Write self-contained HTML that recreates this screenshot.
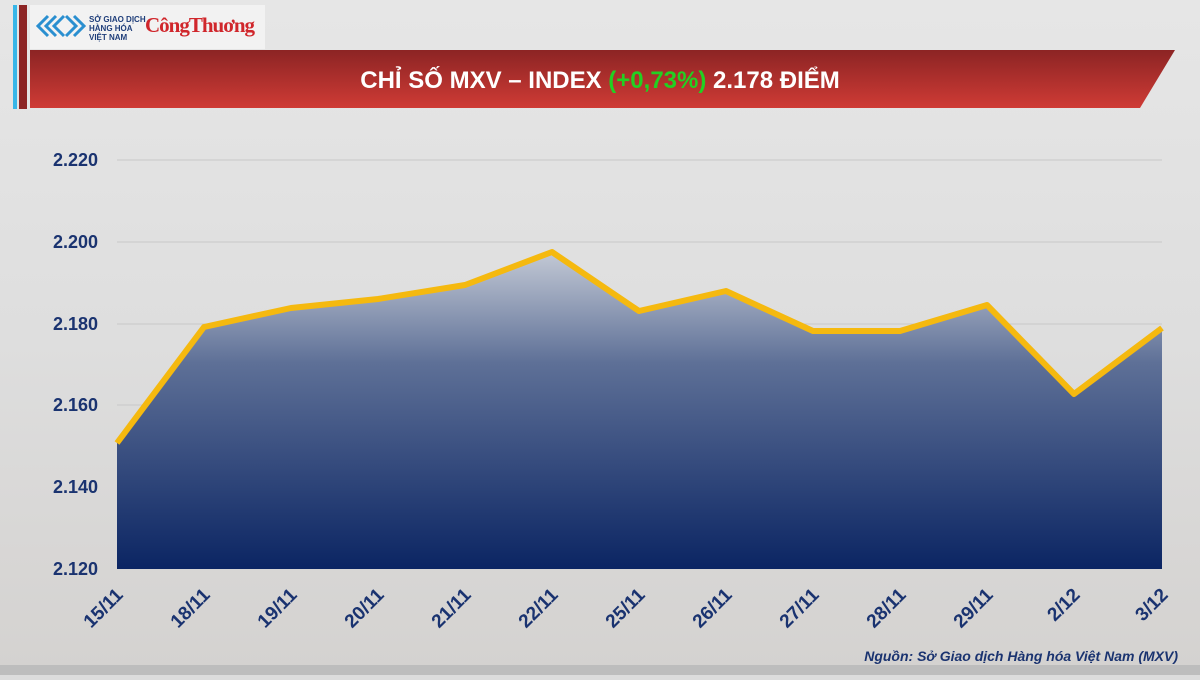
<!DOCTYPE html><html><head><meta charset="utf-8"><style>
body{margin:0;width:1200px;height:675px;overflow:hidden;background:#dcdcdc;font-family:"Liberation Sans","DejaVu Sans",sans-serif}
</style></head><body>
<svg width="1200" height="675" viewBox="0 0 1200 675" xmlns="http://www.w3.org/2000/svg">
<defs>
<linearGradient id="bg" x1="0" y1="0" x2="0" y2="1"><stop offset="0" stop-color="#e6e6e6"/><stop offset="0.5" stop-color="#dedede"/><stop offset="1" stop-color="#d4d2d0"/></linearGradient>
<linearGradient id="red" x1="0" y1="0" x2="0" y2="1"><stop offset="0" stop-color="#8c2424"/><stop offset="1" stop-color="#cf3b35"/></linearGradient>
<linearGradient id="area" x1="0" y1="0" x2="0" y2="1"><stop offset="0" stop-color="#c3c9d5"/><stop offset="0.35" stop-color="#5e7097"/><stop offset="1" stop-color="#0b2563"/></linearGradient>
</defs>
<rect width="1200" height="675" fill="url(#bg)"/>
<rect x="0" y="665" width="1200" height="10" fill="#bdbdbd"/>
<rect x="13" y="5" width="4" height="104" fill="#38b6e8"/>
<rect x="19" y="5" width="8" height="104" fill="#8c2424"/>
<rect x="30" y="5" width="235" height="44" fill="#f2f2f2"/>
<g fill="none" stroke="#2a8fd0" stroke-width="3"><path d="M48 16 l-10 10 l10 10 M56 16 l-10 10 l10 10 M64 16 l-10 10 l10 10 M66 16 l10 10 l-10 10 M74 16 l10 10 l-10 10"/></g>
<text x="89" y="22" font-size="8" fill="#1f3e7a" font-weight="bold">SỞ GIAO DỊCH</text>
<text x="89" y="31" font-size="8" fill="#1f3e7a" font-weight="bold">HÀNG HÓA</text>
<text x="89" y="40" font-size="8" fill="#1f3e7a" font-weight="bold">VIỆT NAM</text>
<text x="145" y="32" font-size="21" fill="#d0262b" font-weight="bold" font-family="Liberation Serif,serif" letter-spacing="-1">CôngThuơng</text>
<polygon points="30,50 1175,50 1140,108 30,108" fill="url(#red)"/>
<text x="600" y="88" text-anchor="middle" font-size="24" font-weight="bold" fill="#fff">CHỈ SỐ MXV – INDEX <tspan fill="#22d022">(+0,73%)</tspan> 2.178 ĐIỂM</text>
<g stroke="#c8c8c8" stroke-width="1">
<line x1="117" y1="160" x2="1162" y2="160"/><line x1="117" y1="242" x2="1162" y2="242"/><line x1="117" y1="324" x2="1162" y2="324"/><line x1="117" y1="405" x2="1162" y2="405"/><line x1="117" y1="487" x2="1162" y2="487"/></g>
<g font-size="18" font-weight="bold" fill="#1a3370" text-anchor="end">
<text x="98" y="166">2.220</text><text x="98" y="248">2.200</text><text x="98" y="330">2.180</text><text x="98" y="411">2.160</text><text x="98" y="493">2.140</text><text x="98" y="575">2.120</text></g>
<polygon points="117,443 204,327 291,308 378,299 465,285 552,252 639,311 726,291 813,331 900,331 987,305 1074,394 1162,328 1162,569 117,569" fill="url(#area)"/>
<polyline points="117,443 204,327 291,308 378,299 465,285 552,252 639,311 726,291 813,331 900,331 987,305 1074,394 1162,328" fill="none" stroke="#f5b90f" stroke-width="6" stroke-linejoin="round"/>
<g font-size="19" font-weight="bold" fill="#1a3370" text-anchor="end">
<text transform="translate(124,596) rotate(-45)">15/11</text>
<text transform="translate(211,596) rotate(-45)">18/11</text>
<text transform="translate(298,596) rotate(-45)">19/11</text>
<text transform="translate(385,596) rotate(-45)">20/11</text>
<text transform="translate(472,596) rotate(-45)">21/11</text>
<text transform="translate(559,596) rotate(-45)">22/11</text>
<text transform="translate(646,596) rotate(-45)">25/11</text>
<text transform="translate(733,596) rotate(-45)">26/11</text>
<text transform="translate(820,596) rotate(-45)">27/11</text>
<text transform="translate(907,596) rotate(-45)">28/11</text>
<text transform="translate(994,596) rotate(-45)">29/11</text>
<text transform="translate(1081,596) rotate(-45)">2/12</text>
<text transform="translate(1169,596) rotate(-45)">3/12</text>
</g>
<text x="1178" y="661" text-anchor="end" font-size="14" font-weight="bold" font-style="italic" fill="#1a3370">Nguồn: Sở Giao dịch Hàng hóa Việt Nam (MXV)</text>
</svg>
</body></html>
